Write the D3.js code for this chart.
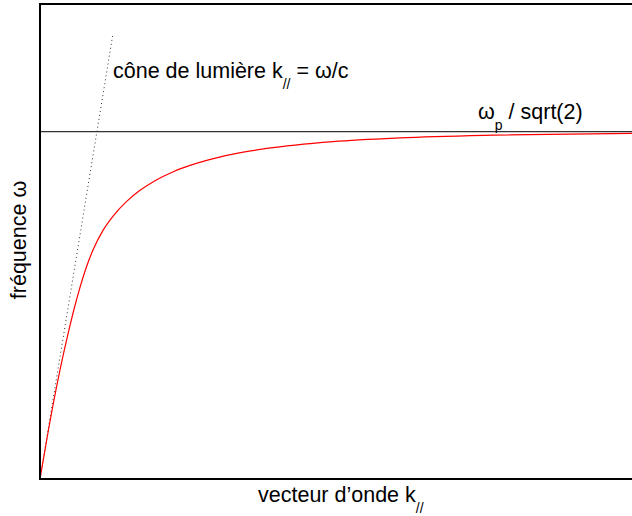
<!DOCTYPE html>
<html>
<head>
<meta charset="utf-8">
<script src="https://cdn.jsdelivr.net/npm/d3@7"></script>
<style>
  body { margin: 0; background: #fff; }
  svg { display: block; }
</style>
</head>
<body>
<div id="chart"></div>
<script>
// surface plasmon dispersion
// k in units of wp/c, omega in units of wp
var kValues = [0, 0.0994, 0.1988, 0.2981, 0.3640, 0.4137, 0.4969, 0.5801, 0.6621, 0.7863,
  0.9106, 1.0770, 1.2422, 1.4286, 1.6559, 1.8634, 2.0708, 2.3975, 2.8161, 3.6398,
  4.4720, 5.6273, 7.3540];
var omegaValues = [0, 0.0947, 0.1820, 0.2598, 0.3068, 0.3400, 0.3901, 0.4332, 0.4676, 0.5071,
  0.5358, 0.5651, 0.5877, 0.6073, 0.6256, 0.6384, 0.6488, 0.6614, 0.6730, 0.6870,
  0.6945, 0.7000, 0.7038];

// light line k = omega/c
var lightK = [0, 0.908];
var lightOmega = [0, 0.908];

// asymptote wp / sqrt(2)
var omegaSp = 0.7071;

var width = 632;
var height = 516;

var svg = d3.select("#chart").append("svg")
    .attr("width", width)
    .attr("height", height)
    .attr("font-family", "'Liberation Sans', Arial, Helvetica, sans-serif");

var x = d3.scaleLinear().domain([0, 7.354]).range([40, 632]);
var y = d3.scaleLinear().domain([0, 0.967]).range([479, 4]);

var line = d3.line()
    .x(function(d) { return x(d[0]); })
    .y(function(d) { return y(d[1]); });

// asymptote
svg.append("line")
    .attr("x1", x(0))
    .attr("x2", x(7.354))
    .attr("y1", y(omegaSp))
    .attr("y2", y(omegaSp))
    .attr("stroke", "#333")
    .attr("stroke-width", 1.2);

// light cone (dotted)
svg.append("path")
    .datum(d3.zip(lightK, lightOmega))
    .attr("d", line)
    .attr("fill", "none")
    .attr("stroke", "#333")
    .attr("stroke-width", 1)
    .attr("stroke-dasharray", "1,3");

// dispersion curve
svg.append("path")
    .datum(d3.zip(kValues, omegaValues))
    .attr("d", line.curve(d3.curveMonotoneX))
    .attr("fill", "none")
    .attr("stroke", "#ff0000")
    .attr("stroke-width", 1.2);

// frame: left, top, bottom (right side is off the picture)
var frame = svg.append("g")
    .attr("stroke", "#000")
    .attr("stroke-width", 2)
    .attr("fill", "none");
frame.append("path")
    .attr("d", "M" + x(7.354) + "," + y(0.967) + "H" + x(0) + "V" + y(0) + "H" + x(7.354));

var fs = 21.5, subFs = 14;

function label(xp, yp, parts, rotate) {
  var t = svg.append("text")
      .attr("font-size", fs)
      .attr("fill", "#000");
  if (rotate) {
    t.attr("transform", "translate(" + xp + "," + yp + ") rotate(-90)")
      .attr("text-anchor", "middle");
  } else {
    t.attr("x", xp).attr("y", yp);
  }
  parts.forEach(function(p) {
    var s = t.append("tspan").text(p.text);
    if (p.sub) {
      s.attr("font-size", subFs).attr("dy", 11);
    } else if (p.back) {
      s.attr("dy", -11);
    }
  });
  return t;
}

label(113, 78, [
  {text: "cône de lumière k"},
  {text: "//", sub: true},
  {text: " = ω/c", back: true}
]);

label(478, 118.5, [
  {text: "ω"},
  {text: "p", sub: true},
  {text: " / sqrt(2)", back: true}
]);

label(258, 502, [
  {text: "vecteur d’onde k"},
  {text: "//", sub: true}
]);

label(26, 240, [
  {text: "fréquence ω"}
], true);
</script>
</body>
</html>
